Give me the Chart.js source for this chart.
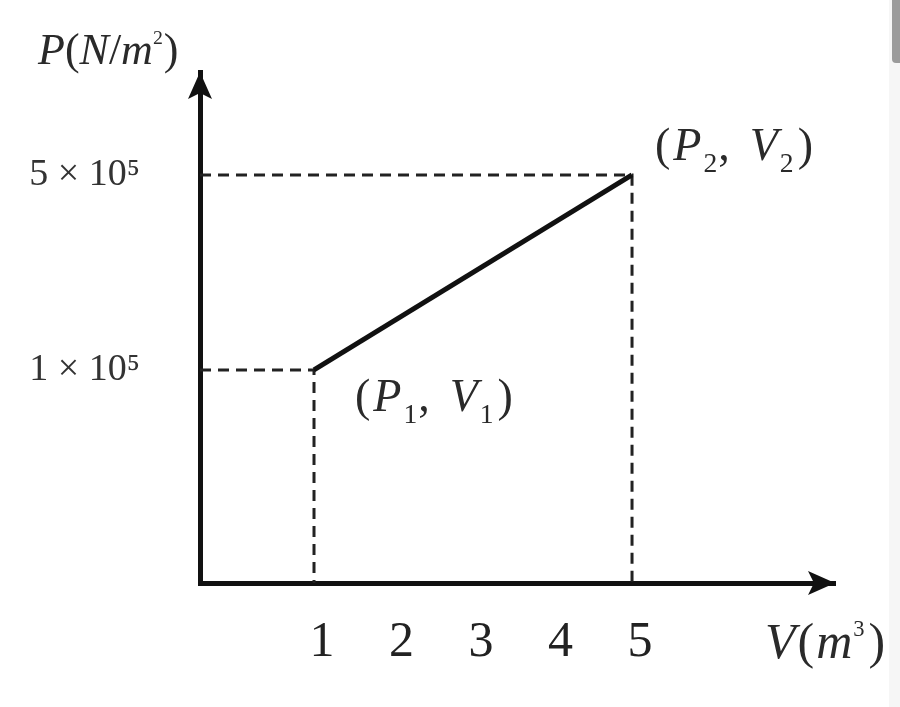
<!DOCTYPE html>
<html lang="en">
<head>
<meta charset="UTF-8">
<title>P-V diagram</title>
<script src="https://cdn.jsdelivr.net/npm/chart.js"></script>
<style>
  body { margin: 0; background: #fff; }
  #wrap { position: relative; width: 900px; height: 707px; overflow: hidden; }
  #pv { display: block; }
  .strip { position: absolute; right: 0; top: 0; width: 11px; height: 707px; background: #f6f6f6; }
  .thumb { position: absolute; right: 0; top: 0; width: 8px; height: 63px; background: #9b9b9b; border-radius: 0 0 0 4px; }
</style>
</head>
<body>
<div id="wrap">
  <canvas id="pv" width="900" height="707"></canvas>
  <div class="strip"></div>
  <div class="thumb"></div>
</div>
<script>
// the two states of the process
const volumes = [1, 5];          // m^3
const pressures = [1e5, 5e5];    // N/m^2
const stateSubs = ["1", "2"];

const xTickValues = [1, 2, 3, 4, 5];
const yTickValues = [1e5, 5e5];
const yTickLabels = ["1 × 10⁵", "5 × 10⁵"];

// axis ranges (the drawing is schematic, axes don't start at 0)
const xRange = [-0.434, 7.553];
const yRange = [-3.37e5, 7.11e5];

const serif = '"Liberation Serif", "DejaVu Serif", serif';

const processLine = volumes.map((v, i) => ({ x: v, y: pressures[i] }));

const guideSets = volumes.map((v, i) => ({
  data: [
    { x: xRange[0], y: pressures[i] },
    { x: v, y: pressures[i] },
    { x: v, y: yRange[0] }
  ],
  showLine: true,
  borderColor: '#222',
  borderWidth: 3,
  borderDash: [11, 7],
  pointRadius: 0,
  tension: 0
}));

function drawRuns(ctx, x, y, runs, size) {
  let cx = x;
  for (const r of runs) {
    const fs = size * (r.s || 1);
    ctx.font = (r.i ? 'italic ' : '') + fs + 'px ' + serif;
    ctx.fillText(r.t, cx, y + (r.dy || 0) * size);
    cx += ctx.measureText(r.t).width + (r.gap || 0);
  }
}

function stateRuns(sub) {
  return [
    { t: '(' , gap: 3 },
    { t: 'P', i: true, gap: 2 },
    { t: sub, s: 0.6, dy: 0.27, gap: 1 },
    { t: ',', gap: 20 },
    { t: 'V', i: true, gap: 2 },
    { t: sub, s: 0.6, dy: 0.27, gap: 4 },
    { t: ')' }
  ];
}

const decor = {
  id: 'decor',
  afterDraw(chart) {
    const ctx = chart.ctx, a = chart.chartArea;
    const xs = chart.scales.x, ys = chart.scales.y;
    ctx.save();
    ctx.fillStyle = '#111';
    // arrow heads
    ctx.beginPath();
    ctx.moveTo(a.left, a.top);
    ctx.lineTo(a.left - 12, a.top + 27);
    ctx.lineTo(a.left, a.top + 21);
    ctx.lineTo(a.left + 12, a.top + 27);
    ctx.closePath();
    ctx.fill();
    ctx.beginPath();
    ctx.moveTo(a.right, a.bottom);
    ctx.lineTo(a.right - 27, a.bottom - 12);
    ctx.lineTo(a.right - 21, a.bottom);
    ctx.lineTo(a.right - 27, a.bottom + 12);
    ctx.closePath();
    ctx.fill();

    // axis names
    ctx.fillStyle = '#2a2a2a';
    ctx.textBaseline = 'alphabetic';
    drawRuns(ctx, 38, 64, [
      { t: 'P', i: true }, { t: '(' }, { t: 'N', i: true }, { t: '/' },
      { t: 'm', i: true }, { t: '2', s: 0.45, dy: -0.45, gap: 1 }, { t: ')' }
    ], 44);
    drawRuns(ctx, 765, 658, [
      { t: 'V', i: true, gap: 2 }, { t: '(', gap: 2 }, { t: 'm', i: true, gap: 1 },
      { t: '3', s: 0.45, dy: -0.45, gap: 4 }, { t: ')' }
    ], 50);

    // state labels
    drawRuns(ctx, xs.getPixelForValue(volumes[0]) + 41, ys.getPixelForValue(pressures[0]) + 41,
      stateRuns(stateSubs[0]), 46);
    drawRuns(ctx, xs.getPixelForValue(volumes[1]) + 23, ys.getPixelForValue(pressures[1]) - 15,
      stateRuns(stateSubs[1]), 46);
    ctx.restore();
  }
};

new Chart(document.getElementById('pv'), {
  type: 'scatter',
  data: {
    datasets: [
      {
        data: processLine,
        showLine: true,
        borderColor: '#111',
        borderWidth: 5,
        pointRadius: 0
      },
      ...guideSets
    ]
  },
  options: {
    responsive: false,
    animation: false,
    layout: { padding: { top: 72, right: 65, left: 0, bottom: 0 } },
    plugins: {
      legend: { display: false },
      tooltip: { enabled: false }
    },
    scales: {
      x: {
        type: 'linear',
        min: xRange[0],
        max: xRange[1],
        grid: { display: false, drawTicks: false },
        border: { display: true, color: '#111', width: 5 },
        afterBuildTicks: s => { s.ticks = xTickValues.map(v => ({ value: v })); },
        afterFit: s => {
          s.height = 707 - 583;
          s.paddingLeft = 0;
          s.paddingRight = 0;
        },
        ticks: {
          color: '#222',
          font: { family: serif, size: 50 },
          padding: 30,
          labelOffset: 8,
          maxRotation: 0,
          callback: v => String(v)
        }
      },
      y: {
        type: 'linear',
        min: yRange[0],
        max: yRange[1],
        grid: { display: false, drawTicks: false },
        border: { display: true, color: '#111', width: 5 },
        afterBuildTicks: s => { s.ticks = yTickValues.map(v => ({ value: v })); },
        afterFit: s => {
          s.width = 200;
          s.paddingTop = 0;
          s.paddingBottom = 0;
        },
        ticks: {
          color: '#333',
          font: { family: serif, size: 38 },
          padding: 60,
          callback: v => yTickLabels[yTickValues.indexOf(v)]
        }
      }
    }
  },
  plugins: [decor]
});
</script>
</body>
</html>
